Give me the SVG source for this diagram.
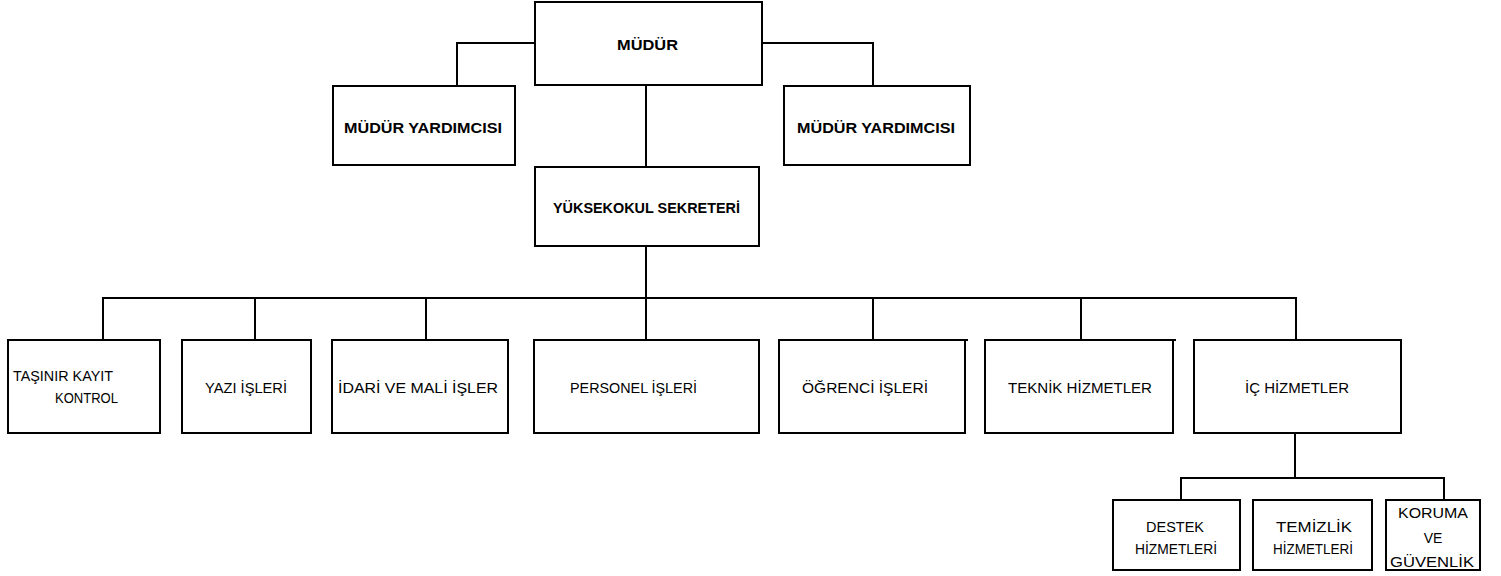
<svg xmlns="http://www.w3.org/2000/svg" width="1501" height="576" viewBox="0 0 1501 576">
<style>
.box{fill:#fff;stroke:#000;stroke-width:2}
.ln{fill:none;stroke:#000;stroke-width:2}
text{font-family:"Liberation Sans",Arial,sans-serif;font-size:14px;fill:#000}
.b{font-weight:bold;font-size:15px}
.c{text-anchor:middle}
</style>
<rect width="1501" height="576" fill="#fff"/>
<g id="connectors">
<polyline class="ln" points="535,43 457,43 457,86"/>
<polyline class="ln" points="762,43 873,43 873,86"/>
<line class="ln" x1="646" y1="85" x2="646" y2="167"/>
<line class="ln" x1="646" y1="246" x2="646" y2="298"/>
<polyline class="ln" points="103,340 103,298 1296,298 1296,340"/>
<line class="ln" x1="255" y1="298" x2="255" y2="340"/>
<line class="ln" x1="426" y1="298" x2="426" y2="340"/>
<line class="ln" x1="646" y1="298" x2="646" y2="340"/>
<line class="ln" x1="873" y1="298" x2="873" y2="340"/>
<line class="ln" x1="1081" y1="298" x2="1081" y2="340"/>
<line class="ln" x1="1295" y1="433" x2="1295" y2="478"/>
<polyline class="ln" points="1181,500 1181,478 1444,478 1444,500"/>
</g>
<g id="mudur"><rect class="box" x="535" y="2" width="227" height="83"/><text class="b c" x="647.5" y="50" textLength="61" lengthAdjust="spacingAndGlyphs">MÜDÜR</text></g>
<g id="mudur-yrd-1"><rect class="box" x="333" y="86" width="182" height="79"/><text class="b c" x="423" y="133" textLength="158" lengthAdjust="spacingAndGlyphs">MÜDÜR YARDIMCISI</text></g>
<g id="mudur-yrd-2"><rect class="box" x="784" y="86" width="186" height="79"/><text class="b c" x="876" y="133" textLength="158" lengthAdjust="spacingAndGlyphs">MÜDÜR YARDIMCISI</text></g>
<g id="sekreter"><rect class="box" x="535" y="167" width="224" height="79"/><text class="b c" x="646.5" y="213" textLength="187" lengthAdjust="spacingAndGlyphs">YÜKSEKOKUL SEKRETERİ</text></g>
<g id="tasinir"><rect class="box" x="8" y="340" width="152" height="93"/><text x="13" y="381" textLength="100" lengthAdjust="spacingAndGlyphs">TAŞINIR KAYIT</text><text x="55" y="403" textLength="63" lengthAdjust="spacingAndGlyphs">KONTROL</text></g>
<g id="yazi"><rect class="box" x="182" y="340" width="129" height="93"/><text class="c" x="246" y="393" textLength="82" lengthAdjust="spacingAndGlyphs">YAZI İŞLERİ</text></g>
<g id="idari"><rect class="box" x="332" y="340" width="176" height="93"/><text class="c" x="418" y="393" textLength="160" lengthAdjust="spacingAndGlyphs">İDARİ VE MALİ İŞLER</text></g>
<g id="personel"><rect class="box" x="534" y="340" width="225" height="93"/><text x="570" y="393" textLength="127" lengthAdjust="spacingAndGlyphs">PERSONEL İŞLERİ</text></g>
<g id="ogrenci"><rect class="box" x="779" y="340" width="186" height="93"/><line class="ln" x1="965" y1="340" x2="968" y2="340"/><text class="c" x="865" y="393" textLength="126" lengthAdjust="spacingAndGlyphs">ÖĞRENCİ İŞLERİ</text></g>
<g id="teknik"><rect class="box" x="985" y="340" width="188" height="93"/><line class="ln" x1="1173" y1="340" x2="1176" y2="340"/><text class="c" x="1080" y="393" textLength="144" lengthAdjust="spacingAndGlyphs">TEKNİK HİZMETLER</text></g>
<g id="ic"><rect class="box" x="1194" y="340" width="207" height="93"/><text class="c" x="1297" y="393" textLength="104" lengthAdjust="spacingAndGlyphs">İÇ HİZMETLER</text></g>
<g id="destek"><rect class="box" x="1113" y="500" width="127" height="70"/><text class="c" x="1175" y="532" textLength="58" lengthAdjust="spacingAndGlyphs">DESTEK</text><text class="c" x="1176" y="554" textLength="82" lengthAdjust="spacingAndGlyphs">HİZMETLERİ</text></g>
<g id="temizlik"><rect class="box" x="1253" y="500" width="119" height="70"/><text class="c" x="1314" y="532" textLength="76" lengthAdjust="spacingAndGlyphs">TEMİZLİK</text><text class="c" x="1313" y="554" textLength="80" lengthAdjust="spacingAndGlyphs">HİZMETLERİ</text></g>
<g id="koruma"><rect class="box" x="1386" y="500" width="94" height="70"/><text class="c" x="1433" y="518" textLength="70" lengthAdjust="spacingAndGlyphs">KORUMA</text><text class="c" x="1433" y="543">VE</text><text class="c" x="1432" y="567" textLength="84" lengthAdjust="spacingAndGlyphs">GÜVENLİK</text></g>
</svg>
